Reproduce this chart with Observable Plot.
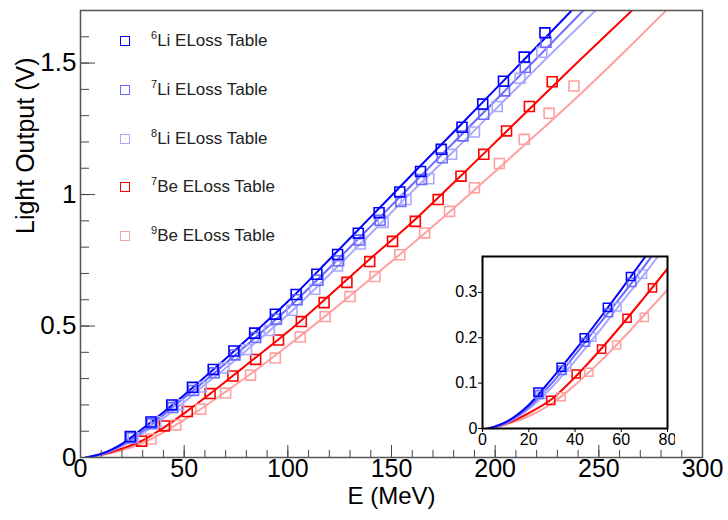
<!DOCTYPE html>
<html><head><meta charset="utf-8">
<script src="https://cdn.jsdelivr.net/npm/d3@7"></script>
<script src="https://cdn.jsdelivr.net/npm/@observablehq/plot@0.6"></script>
<style>
html,body{margin:0;padding:0;background:#fff;}
#wrap{position:relative;width:728px;height:520px;font-family:"Liberation Sans",Arial,sans-serif;overflow:hidden;}
#main,#inset,#legend{position:absolute;}
#main{left:0;top:0;}
#inset{left:440px;top:246px;}
#legend{left:0;top:0;}
.row{position:absolute;left:120px;height:20px;display:flex;align-items:center;font-size:17px;color:#222;white-space:nowrap;}
.mk{width:10px;height:10px;box-sizing:border-box;border:1.5px solid;}
.tx{margin-left:21px;}
.sup{font-size:11px;position:relative;top:-7px;}
</style>
</head><body>
<div id="wrap"><div id="main"></div><div id="legend"></div><div id="inset"></div></div>
<script>
// ---- data ----
const seriesKeys = ["6Li","7Li","8Li","7Be","9Be"];
const massNumbers = ["6","7","8","7","9"];
const elements = ["Li","Li","Li","Be","Be"];
const legendSuffix = " ELoss Table";
const colors = ["#0000ff","#6b6bff","#a9a9ff","#ff0000","#ffa0a0"];

const xTicks = [0,50,100,150,200,250,300];
const xTickLabels = ["0","50","100","150","200","250","300"];
const yTicks = [0,0.5,1,1.5];
const yTickLabels = ["0","0.5","1","1.5"];
const insetXTicks = [0,20,40,60,80];
const insetXTickLabels = ["0","20","40","60","80"];
const insetYTicks = [0,0.1,0.2,0.3];
const insetYTickLabels = ["0","0.1","0.2","0.3"];
const xLabel = "E (MeV)";
const yLabel = "Light Output (V)";

// data points (E in MeV, light output in V)
const li6E = [24,34,44,54,64,74,84,94,104,114,124,134,144,154,164,174,184,194,204,214,224];
const li6L = [0.08,0.135,0.2,0.267,0.335,0.405,0.473,0.545,0.62,0.697,0.772,0.853,0.931,1.01,1.088,1.172,1.256,1.344,1.431,1.523,1.615];
const li7E = [24.5,34.5,44.5,54.5,64.5,74.5,84.5,94.5,104.5,114.5,124.5,134.5,144.5,154.5,164.5,174.5,184.5,194.5,204.5,214.5,224.5];
const li7L = [0.075,0.128,0.19,0.255,0.322,0.39,0.456,0.526,0.6,0.674,0.748,0.827,0.902,0.974,1.057,1.14,1.223,1.305,1.394,1.484,1.579];
const li8E = [25.4,36.4,47.3,58.2,69.2,80.1,91.1,102,113,124,135,146,157,168,179,190,201,212,222.5];
const li8L = [0.075,0.136,0.201,0.268,0.34,0.41,0.483,0.56,0.64,0.728,0.812,0.894,0.981,1.06,1.153,1.238,1.335,1.442,1.541];
const be7E = [29.5,40.5,51.5,62.5,73.5,84.5,95.5,106.5,117.5,128.5,139.5,150.5,161.5,172.5,183.5,194.5,205.5,216.5,227.5];
const be7L = [0.062,0.12,0.175,0.243,0.31,0.373,0.447,0.517,0.589,0.666,0.745,0.822,0.898,0.981,1.07,1.153,1.242,1.335,1.429];
const be9E = [34,46,58,70,82,94,106,118,130,142,154,166,178,190,202,214,226,238];
const be9L = [0.07,0.124,0.184,0.245,0.313,0.378,0.458,0.536,0.612,0.688,0.771,0.854,0.936,1.026,1.118,1.21,1.309,1.413];

// fit curves at knots
const li6FitE = [2.5,10,20,30,40,50,60,70,80,100,120,140,160,180,200,220,240];
const li6FitL = [0,0.014,0.052,0.11,0.172,0.238,0.306,0.376,0.447,0.593,0.753,0.915,1.077,1.238,1.4,1.562,1.725];
const li7FitE = [2.5,10,20,30,40,50,60,70,80,100,120,140,160,180,200,220,245];
const li7FitL = [0,0.012,0.047,0.1,0.162,0.227,0.291,0.358,0.426,0.567,0.721,0.879,1.038,1.198,1.357,1.518,1.72];
const li8FitE = [2.5,10,20,30,40,50,60,70,80,100,120,140,160,180,200,220,250];
const li8FitL = [0,0.011,0.043,0.091,0.149,0.211,0.277,0.34,0.407,0.543,0.695,0.852,1.012,1.165,1.323,1.481,1.712];
const be7FitE = [2.5,10,20,30,40,50,60,70,80,100,120,140,160,180,200,220,240,270];
const be7FitL = [0,0.01,0.034,0.065,0.113,0.168,0.227,0.289,0.352,0.478,0.616,0.758,0.895,1.045,1.198,1.352,1.505,1.73];
const be9FitE = [2.5,10,20,30,40,50,60,70,80,100,120,140,160,180,200,220,240,260,285];
const be9FitL = [0,0.009,0.027,0.055,0.096,0.143,0.195,0.25,0.306,0.425,0.55,0.68,0.812,0.948,1.088,1.23,1.374,1.525,1.72];

// ---- build tables ----
const rows = (key, E, L) => E.map((e, i) => ({series: key, E: e, L: L[i]}));
// drawn lightest first so the dark series sit on top
const points = [
  ...rows("9Be", be9E, be9L), ...rows("7Be", be7E, be7L),
  ...rows("8Li", li8E, li8L), ...rows("7Li", li7E, li7L), ...rows("6Li", li6E, li6L)
];
const fits = [
  ...rows("9Be", be9FitE, be9FitL), ...rows("7Be", be7FitE, be7FitL),
  ...rows("8Li", li8FitE, li8FitL), ...rows("7Li", li7FitE, li7FitL), ...rows("6Li", li6FitE, li6FitL)
];
const xMinor = d3.range(0, 31).map(i => i * 10);
const yMinor = d3.range(0, 17).map(i => i / 10);
const font = '"Liberation Sans", Arial, sans-serif';
const noText = () => "";

const main = Plot.plot({
  width: 728, height: 520,
  marginLeft: 80, marginRight: 26, marginTop: 10, marginBottom: 63,
  style: {fontFamily: font, color: "#000", background: "#fff"},
  x: {domain: [0, 300]},
  y: {domain: [0, 1.7]},
  color: {domain: seriesKeys, range: colors},
  marks: [
    Plot.line(fits, {x: "E", y: "L", z: "series", stroke: "series", strokeWidth: 2, curve: "monotone-x", clip: true}),
    Plot.dot(points, {x: "E", y: "L", stroke: "series", symbol: "square", r: 5.6, strokeWidth: 1.6, fill: "none", clip: true}),
    Plot.axisX(xMinor, {anchor: "bottom", tickSize: -7, tickFormat: noText, label: null, stroke: "#444"}),
    Plot.axisX(xTicks, {anchor: "bottom", tickSize: -12, tickFormat: noText, label: null, stroke: "#444"}),
    Plot.axisX(xTicks, {anchor: "bottom", tickSize: 0, tickPadding: 2, tickFormat: (d, i) => xTickLabels[i], label: null, fontSize: 25, fill: "#000"}),
    Plot.axisY(yMinor, {anchor: "left", tickSize: -9, tickFormat: noText, label: null, stroke: "#444"}),
    Plot.axisY(yTicks, {anchor: "left", tickSize: -15, tickFormat: noText, label: null, stroke: "#444"}),
    Plot.axisY(yTicks, {anchor: "left", tickSize: 0, tickPadding: 4, tickFormat: (d, i) => yTickLabels[i], label: null, fontSize: 26, fill: "#000"}),
    Plot.text([xLabel], {text: d => d, frameAnchor: "bottom", dy: 46, fontSize: 24, fill: "#000"}),
    Plot.text([yLabel], {text: d => d, frameAnchor: "left", dx: -55, rotate: -90, fontSize: 25, fill: "#000"}),
    Plot.frame({stroke: "#555", strokeWidth: 1.5})
  ]
});
document.getElementById("main").appendChild(main);

// ---- legend ----
const legend = document.getElementById("legend");
seriesKeys.forEach((k, i) => {
  const row = document.createElement("div");
  row.className = "row";
  row.style.top = (31 + i * 48.8) + "px";
  row.innerHTML = `<div class="mk" style="border-color:${colors[i]}"></div>` +
    `<span class="tx"><span class="sup">${massNumbers[i]}</span>${elements[i]}${legendSuffix}</span>`;
  legend.appendChild(row);
});

// ---- inset ----
const inset = Plot.plot({
  width: 235, height: 207,
  marginLeft: 42, marginRight: 8, marginTop: 10, marginBottom: 25,
  style: {fontFamily: font, color: "#000", background: "transparent"},
  x: {domain: [0, 80]},
  y: {domain: [0, 0.379]},
  color: {domain: seriesKeys, range: colors},
  marks: [
    Plot.frame({fill: "#fff", stroke: "none"}),
    Plot.line(fits, {x: "E", y: "L", z: "series", stroke: "series", strokeWidth: 2, curve: "monotone-x", clip: true}),
    Plot.dot(points, {x: "E", y: "L", stroke: "series", symbol: "square", r: 4.6, strokeWidth: 1.5, fill: "none", clip: true}),
    Plot.axisX(insetXTicks, {anchor: "bottom", tickSize: 4, tickPadding: 1, tickFormat: (d, i) => insetXTickLabels[i], label: null, fontSize: 16, fill: "#000"}),
    Plot.axisY(insetYTicks, {anchor: "left", tickSize: 4, tickPadding: 1, tickFormat: (d, i) => insetYTickLabels[i], label: null, fontSize: 16, fill: "#000"}),
    Plot.frame({stroke: "#000", strokeWidth: 2})
  ]
});
document.getElementById("inset").appendChild(inset);
</script>
</body></html>
